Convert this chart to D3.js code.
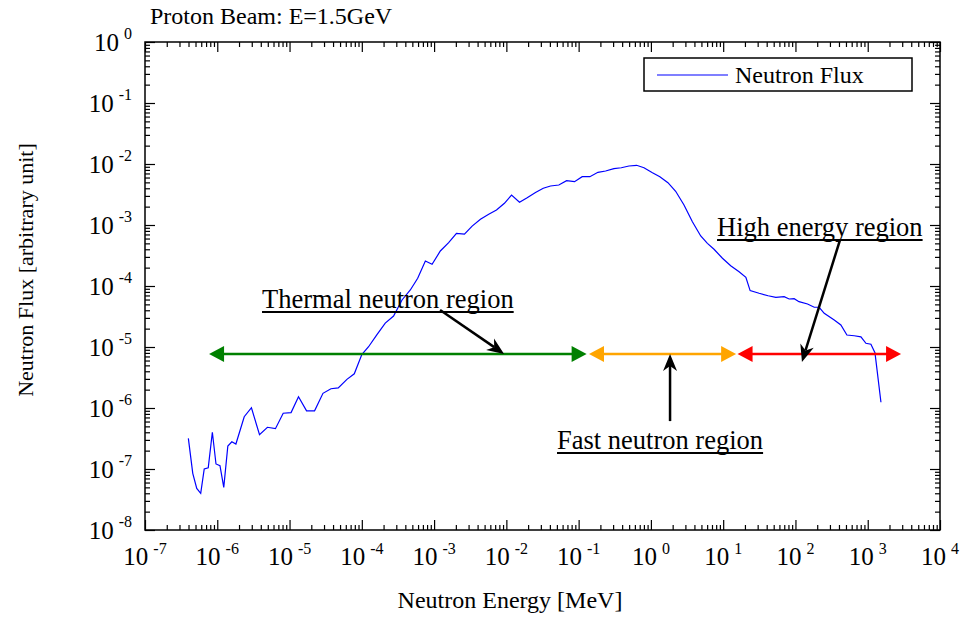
<!DOCTYPE html>
<html>
<head>
<meta charset="utf-8">
<script src="https://cdn.jsdelivr.net/npm/d3@7"></script>
<style>
  body { margin: 0; background: #fff; }
  svg text { font-family: "Liberation Serif", "Times New Roman", serif; fill: #000; }
</style>
</head>
<body>
<svg id="chart" width="968" height="617"></svg>
<script>
// neutron spectrum (energy in MeV, flux in arbitrary unit)
const energy = [
    3.98e-7, 4.58e-7, 5.2e-7, 5.9e-7, 6.6e-7, 7.5e-7, 8.55e-7, 9.6e-7, 1.09e-6, 1.23e-6,
    1.40e-6, 1.59e-6, 1.81e-6, 2.36e-6, 2.97e-6, 3.84e-6, 4.94e-6, 6.38e-6, 8.17e-6, 1.05e-5,
    1.33e-5, 1.72e-5, 2.22e-5, 2.90e-5, 3.74e-5, 4.72e-5, 6.22e-5, 7.87e-5, 1.0e-4, 1.24e-4,
    1.62e-4, 2.11e-4, 2.75e-4, 3.6e-4, 4.69e-4, 5.93e-4, 7.57e-4, 9.38e-4, 1.22e-3, 1.59e-3,
    2.04e-3, 2.63e-3, 3.36e-3, 4.38e-3, 5.70e-3, 7.3e-3, 9.4e-3, 1.18e-2, 1.52e-2, 1.94e-2,
    2.53e-2, 3.24e-2, 4.08e-2, 5.32e-2, 6.81e-2, 8.77e-2, 0.112, 0.143, 0.185, 0.236,
    0.308, 0.389, 0.497, 0.634, 0.802, 1.05, 1.33, 1.72, 2.20, 2.87,
    3.75, 4.89, 6.05, 7.47, 9.77, 12.7, 16.6, 20.6, 23.6, 31.4,
    41.9, 53.5, 69.7, 81.8, 95.9, 112, 147, 182, 213, 250,
    344, 425, 515, 650, 805, 944, 1107, 1259, 1524
];
const flux = [
    3.18e-7, 8.5e-8, 4.8e-8, 4.0e-8, 1.0e-7, 1.05e-7, 4.0e-7, 1.21e-7, 1.13e-7, 5.0e-8,
    2.38e-7, 2.8e-7, 2.57e-7, 7.2e-7, 1.01e-6, 3.65e-7, 4.83e-7, 4.58e-7, 8.2e-7, 8.4e-7,
    1.53e-6, 9.0e-7, 9.0e-7, 1.74e-6, 2.07e-6, 2.13e-6, 2.95e-6, 3.64e-6, 7.5e-6, 1.01e-5,
    1.60e-5, 2.47e-5, 3.22e-5, 5.9e-5, 8.6e-5, 1.34e-4, 2.57e-4, 2.27e-4, 3.75e-4, 5.13e-4,
    7.3e-4, 7.1e-4, 9.6e-4, 1.24e-3, 1.50e-3, 1.76e-3, 2.27e-3, 3.10e-3, 2.36e-3, 2.80e-3,
    3.41e-3, 4.0e-3, 4.36e-3, 4.53e-3, 5.32e-3, 5.13e-3, 6.19e-3, 6.19e-3, 7.31e-3, 7.68e-3,
    8.38e-3, 8.69e-3, 9.27e-3, 9.52e-3, 8.69e-3, 7.2e-3, 6.19e-3, 4.94e-3, 3.57e-3, 2.13e-3,
    1.13e-3, 6.6e-4, 5.0e-4, 4.0e-4, 2.85e-4, 2.15e-4, 1.71e-4, 1.39e-4, 8.4e-5, 7.6e-5,
    6.93e-5, 6.53e-5, 6.68e-5, 6.12e-5, 6.19e-5, 5.53e-5, 5.07e-5, 4.48e-5, 4.48e-5, 3.57e-5,
    2.77e-5, 2.3e-5, 1.57e-5, 1.53e-5, 1.47e-5, 1.15e-5, 1.11e-5, 8.07e-6, 1.24e-6
];

// energy regions (double arrows)
const regionFrom = [7.7e-7, 0.139, 15.8];
const regionTo = [0.129, 15.1, 2890];
const regionColors = ['#008000', '#ffa500', '#ff0000'];
const regionLevel = 7.7e-6;

// annotation labels: text anchor and pointer arrow, all in data units
const labelText = ['Thermal neutron region', 'Fast neutron region', 'High energy region'];
const labelX = [4.16e-6, 0.0502, 8.22];
const labelY = [4.36e-5, 2.13e-7, 6.6e-4];
const pointerFromX = [1.21e-3, 1.84, 414];
const pointerFromY = [4.04e-5, 6.1e-7, 5.7e-4];
const pointerToX = [9.3e-3, 1.84, 123];
const pointerToY = [7.7e-6, 7.7e-6, 5.7e-6];

const xDecades = d3.range(-7, 5);
const yDecades = d3.range(-8, 1);

const svg = d3.select('#chart');

const LEFT = 145, RIGHT = 940, TOP = 42, BOTTOM = 530;
const MAJOR = 10, MINOR = 5;

const x = d3.scaleLog().domain([1e-7, 1e4]).range([LEFT, RIGHT]);
const y = d3.scaleLog().domain([1e-8, 1]).range([BOTTOM, TOP]);

function minorValues(decades) {
    let out = [];
    decades.slice(0, -1).forEach(d => {
        for (let k = 2; k <= 9; k++) out.push(k * Math.pow(10, d));
    });
    return out;
}

drawAxes();
drawCurve();
drawRegions();
drawLabels();
drawLegend();
drawTitles();

function drawAxes() {
    const xMajor = xDecades.map(d => Math.pow(10, d));
    const yMajor = yDecades.map(d => Math.pow(10, d));
    const xMinor = minorValues(xDecades);
    const yMinor = minorValues(yDecades);

    const axes = [
        [d3.axisBottom, x, `translate(0,${BOTTOM})`, xMajor, xMinor],
        [d3.axisTop, x, `translate(0,${TOP})`, xMajor, xMinor],
        [d3.axisLeft, y, `translate(${LEFT},0)`, yMajor, yMinor],
        [d3.axisRight, y, `translate(${RIGHT},0)`, yMajor, yMinor],
    ];
    axes.forEach(([make, scale, tr, major, minor]) => {
        [[major, MAJOR], [minor, MINOR]].forEach(([vals, len]) => {
            const g = svg.append('g')
                .attr('transform', tr)
                .call(make(scale).tickValues(vals).tickSize(-len).tickFormat(''));
            g.select('.domain').remove();
            g.selectAll('line').attr('stroke', '#000').attr('stroke-width', 1.2);
        });
    });

    svg.append('rect')
        .attr('x', LEFT)
        .attr('y', TOP)
        .attr('width', RIGHT - LEFT)
        .attr('height', BOTTOM - TOP)
        .attr('fill', 'none')
        .attr('stroke', '#000')
        .attr('stroke-width', 1.5);

    // x tick labels: 10 with exponent
    xDecades.forEach(d => {
        const t = svg.append('text')
            .attr('x', x(Math.pow(10, d)))
            .attr('y', BOTTOM + 35)
            .attr('text-anchor', 'middle')
            .attr('font-size', 25);
        t.append('tspan').text('10');
        t.append('tspan').attr('dx', 5).attr('dy', -11).attr('font-size', 16).text(d);
    });

    // y tick labels
    yDecades.forEach(d => {
        const t = svg.append('text')
            .attr('x', 132)
            .attr('y', y(Math.pow(10, d)) + 9)
            .attr('text-anchor', 'end')
            .attr('font-size', 25);
        t.append('tspan').text('10');
        t.append('tspan').attr('dx', 5).attr('dy', -12).attr('font-size', 16).text(d);
    });
}

function drawCurve() {
    const line = d3.line()
        .x(d => x(d[0]))
        .y(d => y(d[1]));
    svg.append('path')
        .datum(d3.zip(energy, flux))
        .attr('d', line)
        .attr('fill', 'none')
        .attr('stroke', '#0000ff')
        .attr('stroke-width', 1.2);
}

function drawRegions() {
    const HEAD = 15, HALF = 8;
    const yy = y(regionLevel);
    regionFrom.forEach((from, i) => {
        const x0 = x(from), x1 = x(regionTo[i]);
        const c = regionColors[i];
        svg.append('line')
            .attr('x1', x0 + HEAD - 1)
            .attr('x2', x1 - HEAD + 1)
            .attr('y1', yy)
            .attr('y2', yy)
            .attr('stroke', c)
            .attr('stroke-width', 2.5);
        svg.append('path')
            .attr('d', `M${x0},${yy}L${x0 + HEAD},${yy - HALF}L${x0 + HEAD},${yy + HALF}Z`)
            .attr('fill', c);
        svg.append('path')
            .attr('d', `M${x1},${yy}L${x1 - HEAD},${yy - HALF}L${x1 - HEAD},${yy + HALF}Z`)
            .attr('fill', c);
    });
}

function drawLabels() {
    const L = 17, W = 7, NOTCH = 5;
    labelText.forEach((txt, i) => {
        const t = svg.append('text')
            .attr('x', x(labelX[i]))
            .attr('y', y(labelY[i]))
            .attr('font-size', 26.5)
            .text(txt);
        const w = t.node().getComputedTextLength();
        svg.append('line')
            .attr('x1', x(labelX[i]))
            .attr('x2', x(labelX[i]) + w)
            .attr('y1', y(labelY[i]) + 4)
            .attr('y2', y(labelY[i]) + 4)
            .attr('stroke', '#000')
            .attr('stroke-width', 2);

        // pointer with barbed head
        const sx = x(pointerFromX[i]), sy = y(pointerFromY[i]);
        const tx = x(pointerToX[i]), ty = y(pointerToY[i]);
        const len = Math.hypot(tx - sx, ty - sy);
        const ux = (tx - sx) / len, uy = (ty - sy) / len;
        const px = -uy, py = ux;
        svg.append('line')
            .attr('x1', sx).attr('y1', sy)
            .attr('x2', tx - ux * (L - NOTCH)).attr('y2', ty - uy * (L - NOTCH))
            .attr('stroke', '#000')
            .attr('stroke-width', 2.5);
        svg.append('path')
            .attr('d', `M${tx},${ty}` +
                `L${tx - ux * L + px * W},${ty - uy * L + py * W}` +
                `L${tx - ux * (L - NOTCH)},${ty - uy * (L - NOTCH)}` +
                `L${tx - ux * L - px * W},${ty - uy * L - py * W}Z`)
            .attr('fill', '#000');
    });
}

function drawLegend() {
    svg.append('rect')
        .attr('x', 644)
        .attr('y', 58)
        .attr('width', 268)
        .attr('height', 33)
        .attr('fill', '#fff')
        .attr('stroke', '#000')
        .attr('stroke-width', 1.5);
    svg.append('line')
        .attr('x1', 657).attr('x2', 728)
        .attr('y1', 75).attr('y2', 75)
        .attr('stroke', '#0000ff')
        .attr('stroke-width', 1.2);
    svg.append('text')
        .attr('x', 735)
        .attr('y', 83)
        .attr('font-size', 24)
        .text('Neutron Flux');
}

function drawTitles() {
    svg.append('text')
        .attr('x', 150)
        .attr('y', 24)
        .attr('font-size', 24)
        .text('Proton Beam: E=1.5GeV');

    svg.append('text')
        .attr('x', 510)
        .attr('y', 608)
        .attr('text-anchor', 'middle')
        .attr('font-size', 24)
        .text('Neutron Energy [MeV]');

    svg.append('text')
        .attr('transform', 'translate(33,270) rotate(-90)')
        .attr('text-anchor', 'middle')
        .attr('font-size', 22)
        .text('Neutron Flux [arbitrary unit]');
}
</script>
</body>
</html>
